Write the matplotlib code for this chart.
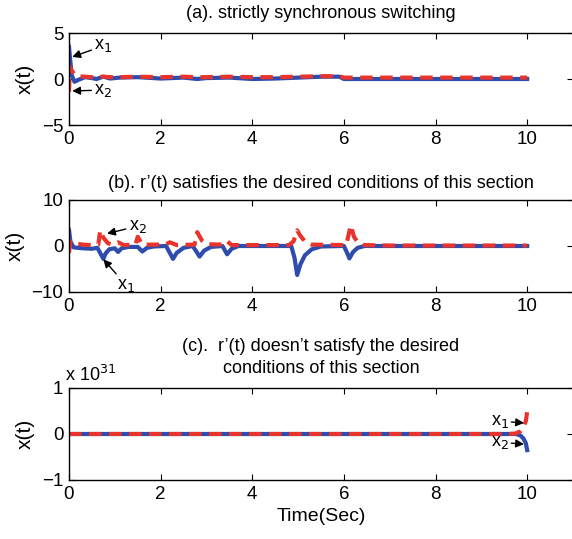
import matplotlib
matplotlib.use("Agg")
import matplotlib.pyplot as plt

plt.rcParams['font.family'] = ['Liberation Sans', 'DejaVu Sans']

BLUE = '#2E4BAE'
RED = '#E8342C'

# ---------------- data ----------------
# panel (a)
t_a = [0, 0.02, 0.06, 0.12, 0.2, 0.35, 0.5, 0.6, 0.75, 0.9, 1.1, 1.5, 2.0, 2.5, 2.8,
       3.0, 3.5, 4.0, 4.5, 5.0, 5.5, 5.9, 6.0, 6.5, 7.0, 7.5, 8.0, 8.5, 9.0, 9.5, 10.0]
x1_a = [3.5, 2.4, 0.4, -0.3, -0.1, 0.2, 0.1, 0.0, 0.25, 0.05, 0.15, 0.2, 0.05, 0.15, 0.0,
        0.1, 0.15, 0.0, 0.05, 0.15, 0.25, 0.25, 0.0, 0.0, 0.0, 0.0, 0.0, 0.0, 0.0, 0.0, 0.0]
x2_a = [-1.4, 1.3, 0.9, 0.5, 0.3, 0.25, 0.2, 0.2, 0.25, 0.2, 0.2, 0.25, 0.2, 0.25, 0.2,
        0.2, 0.25, 0.2, 0.2, 0.25, 0.3, 0.3, 0.15, 0.15, 0.15, 0.15, 0.15, 0.15, 0.15, 0.15, 0.15]

# panel (b)
t_b1 = [0, 0.03, 0.1, 0.3, 0.5, 0.62, 0.68, 0.75, 0.8, 0.88, 1.0, 1.07, 1.15, 1.3, 1.5,
        1.6, 1.7, 1.85, 2.12, 2.2, 2.27, 2.35, 2.5, 2.7, 2.78, 2.85, 2.95, 3.1, 3.35,
        3.45, 3.55, 3.7, 4.85, 4.92, 4.98, 5.05, 5.15, 5.3, 5.5, 6.0, 6.07, 6.12, 6.2,
        6.3, 6.45, 7.0, 8.0, 9.0, 10.0]
x1_b = [3.5, 1.0, -0.3, -0.5, -0.6, -0.4, -1.5, -2.8, -1.6, -0.7, -0.5, -1.3, -0.5, -0.2, -0.2,
        -1.2, -0.4, -0.1, 0.0, -1.5, -2.8, -1.5, -0.4, 0.0, -1.2, -2.3, -1.0, -0.2, 0.0,
        -1.8, -0.6, 0.0, 0.0, -2.5, -6.3, -4.0, -2.0, -0.7, -0.1, 0.0, -1.5, -2.7, -1.3,
        -0.4, 0.0, 0.0, 0.0, 0.0, 0.0]
t_b2 = [0, 0.03, 0.1, 0.3, 0.5, 0.64, 0.68, 0.75, 0.85, 0.95, 1.07, 1.2, 1.45, 1.5, 1.6, 2.1,
        2.2, 2.35, 2.74, 2.8, 2.9, 3.0, 3.3, 3.43, 3.55, 4.8, 4.9, 4.98, 5.05, 5.15, 5.3,
        6.05, 6.15, 6.22, 6.3, 6.45, 7.0, 8.0, 9.0, 10.0]
x2_b = [-1.5, 1.0, 0.6, 0.3, 0.2, 0.3, 3.4, 1.8, 0.6, 0.3, 0.8, 0.2, 0.3, 2.0, 0.3, 0.3,
        0.8, 0.2, 0.3, 3.0, 1.2, 0.4, 0.3, 1.2, 0.2, 0.2, 1.0, 3.4, 2.2, 1.0, 0.3,
        0.2, 4.5, 2.0, 0.8, 0.2, 0.1, 0.1, 0.1, 0.1]

# panel (c)  (values in units of 1e31)
t_c = [0, 2, 4, 6, 8, 9.6, 9.75, 9.85, 9.92, 9.97, 10.0]
x1_c = [0, 0, 0, 0, 0, 0, 0.0, -0.03, -0.1, -0.2, -0.35]
x2_c = [0, 0, 0, 0, 0, 0, 0.01, 0.06, 0.15, 0.28, 0.48]

xticks = [0, 2, 4, 6, 8, 10]
titles = ['(a). strictly synchronous switching',
          '(b). r\u2019(t) satisfies the desired conditions of this section',
          '(c).  r\u2019(t) doesn\u2019t satisfy the desired\nconditions of this section']
ylims = [(-5, 5), (-10, 10), (-1, 1)]
yticks = [[-5, 0, 5], [-10, 0, 10], [-1, 0, 1]]
title_pads = [11, 9, 11]

# ---------------- figure ----------------
W, H = 572, 539
fig = plt.figure(figsize=(W / 100, H / 100), dpi=100)

def ax_at(top, bottom, left=69, right=573):
    return fig.add_axes([left / W, 1 - bottom / H, (right - left) / W, (bottom - top) / H])

axes = [ax_at(33, 125), ax_at(200, 292), ax_at(388, 480)]
series = [((t_a, x1_a), (t_a, x2_a)), ((t_b1, x1_b), (t_b2, x2_b)), ((t_c, x1_c), (t_c, x2_c))]

for ax, (s1, s2), yl, yt, title, tp in zip(axes, series, ylims, yticks, titles, title_pads):
    ax.plot(s1[0], s1[1], color=BLUE, lw=3.0, solid_joinstyle='round')
    ax.plot(s2[0], s2[1], color=RED, lw=3.0, dashes=(3.0, 1.8))
    ax.set_xlim(0, 11)
    ax.set_ylim(*yl)
    ax.set_xticks(xticks)
    ax.set_yticks(yt)
    ax.tick_params(direction='in', top=True, right=True, labelsize=13.5, length=4, width=0.8, pad=4)
    ax.set_ylabel('x(t)', fontsize=15, labelpad=5)
    ax.set_title(title, fontsize=13, pad=tp, linespacing=1.35)
    for s in ax.spines.values():
        s.set_linewidth(1.0)

axes[2].set_xlabel('Time(Sec)', fontsize=14, labelpad=4)
fig.text(65 / W, 1 - 375 / H, 'x 10$^{31}$', fontsize=13, va='center', ha='left')

arrow = dict(arrowstyle='-|>', color='black', lw=1.0, mutation_scale=12, shrinkA=0, shrinkB=0)
ann = dict(fontsize=13, ha='left', va='center', arrowprops=arrow)

axes[0].annotate('x$_1$', xy=(0.07, 2.4), xytext=(0.55, 3.6), **ann)
axes[0].annotate('x$_2$', xy=(0.07, -1.3), xytext=(0.55, -1.2), **ann)
axes[1].annotate('x$_2$', xy=(0.83, 2.7), xytext=(1.3, 4.3), **ann)
axes[1].annotate('x$_1$', xy=(0.75, -2.9), xytext=(1.05, -8.5), **ann)
axes[2].annotate('x$_1$', xy=(9.93, 0.24), xytext=(9.2, 0.28), **ann)
axes[2].annotate('x$_2$', xy=(9.93, -0.22), xytext=(9.2, -0.18), **ann)

fig.savefig('out.png', dpi=100)
